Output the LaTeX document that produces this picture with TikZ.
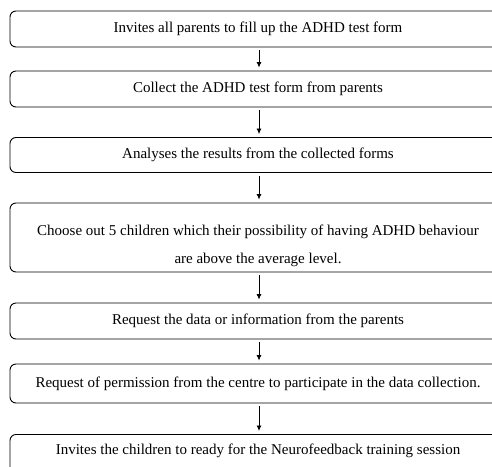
\documentclass[tikz,border=0pt]{standalone}
\usepackage{fontspec}
\setmainfont{Liberation Serif}
\usetikzlibrary{arrows.meta}
\begin{document}
\begin{tikzpicture}[x=1pt,y=-1pt,
  stepbox/.style={draw, line width=0.9pt, rounded corners=6pt, minimum width=496pt, inner sep=0pt, align=center, font=\fontsize{15}{28}\selectfont},
  steptext/.style={inner sep=0pt, align=center, font=\fontsize{15}{28}\selectfont},
  flow/.style={-{Latex[length=5.5pt,width=5pt]}, line width=0.8pt, shorten >=3pt, shorten <=3pt}]
\useasboundingbox (0,0) rectangle (492,466);
\clip (0,0) rectangle (492,466);
\node[stepbox, minimum height=36pt] (b1) at (258,29) {Invites all parents to fill up the ADHD test form};
\node[stepbox, minimum height=36pt] (b2) at (258,89) {Collect the ADHD test form from parents};
\node[stepbox, minimum height=35pt] (b3) at (258,155) {Analyses the results from the collected forms};
\node[stepbox, minimum height=69pt] (b4) at (258,237.5) {};
\node[steptext] (t4) at (258,245.5) {Choose out 5 children which their possibility of having ADHD behaviour\\are above the average level.};
\node[stepbox, minimum height=36pt] (b5) at (258,321) {Request the data or information from the parents};
\node[stepbox, minimum height=39pt] (b6) at (258,383.5) {Request of permission from the centre to participate in the data collection.};
\node[stepbox, anchor=north, minimum height=50pt, text height=10pt, text depth=20pt] (b7) at (258,434) {Invites the children to ready for the Neurofeedback training session};
\draw[flow] (b1.south) ++(1,0) coordinate (a1) -- (a1 |- b2.north);
\draw[flow] (b2.south) ++(1,0) coordinate (a2) -- (a2 |- b3.north);
\draw[flow] (b3.south) ++(1,0) coordinate (a3) -- (a3 |- b4.north);
\draw[flow] (b4.south) ++(1,0) coordinate (a4) -- (a4 |- b5.north);
\draw[flow] (b5.south) ++(1,0) coordinate (a5) -- (a5 |- b6.north);
\draw[flow] (b6.south) ++(1,0) coordinate (a6) -- (a6 |- b7.north);
\end{tikzpicture}
\end{document}
